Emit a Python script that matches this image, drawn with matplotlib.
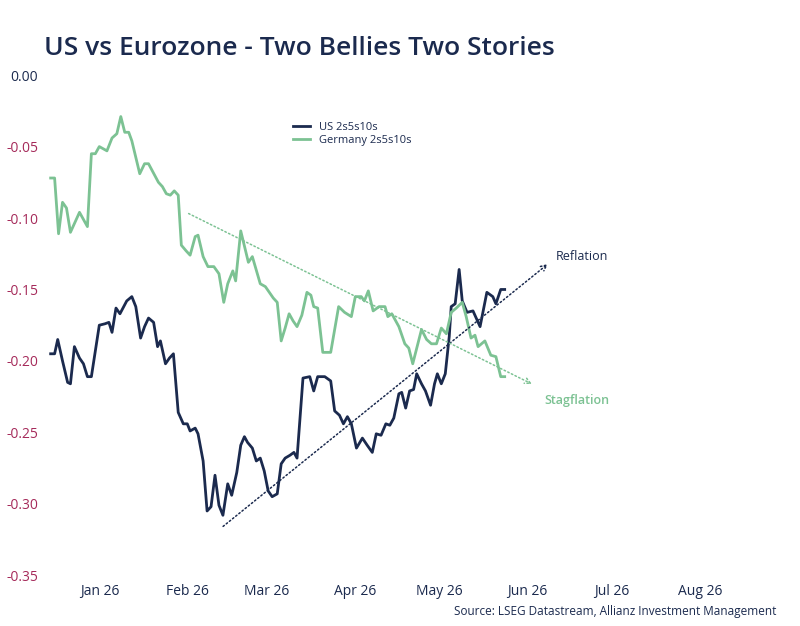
import pandas as pd
import matplotlib.pyplot as plt

# ---------------- DATA ----------------
START = pd.Timestamp("2026-01-01")

us_days = [-17.5, -16.1, -15.0, -13.3, -11.5, -10.5, -9.1, -7.3, -5.9, -4.5, -3.1, -0.3, 1.7, 3.1, 4.2,
           5.6, 7.0, 9.4, 11.2, 12.6, 14.3, 15.7, 17.1, 18.9, 20.3, 21.3, 23.1, 24.5, 25.9, 27.6, 29.4,
           30.8, 31.8, 33.6, 34.6, 36.4, 37.8, 39.2, 40.6, 42.0, 43.4, 45.1, 46.5, 48.3, 49.7, 51.0,
           52.1, 53.8, 55.2, 56.6, 58.0, 59.4, 60.8, 62.6, 64.0, 65.4, 67.1, 68.5, 69.6, 71.7, 74.1,
           75.5, 76.9, 79.4, 81.5, 82.9, 84.6, 86.0, 87.4, 88.8, 90.6, 92.7, 94.4, 96.2, 97.6, 99.3,
           101.0, 102.4, 103.8, 105.6, 106.6, 108.0, 109.4, 110.8, 111.9, 113.6, 115.0, 116.8, 118.2,
           119.2, 120.6, 122.0, 123.4, 124.1, 125.5, 126.9, 128.0, 129.7, 131.8, 134.3, 136.7, 138.8,
           139.9, 141.6, 143.0]
us_vals = [-0.195, -0.195, -0.185, -0.200, -0.215, -0.216, -0.190, -0.198, -0.202, -0.211, -0.211,
           -0.175, -0.174, -0.173, -0.180, -0.163, -0.167, -0.158, -0.155, -0.162, -0.184, -0.176,
           -0.170, -0.173, -0.190, -0.186, -0.202, -0.198, -0.195, -0.236, -0.244, -0.244, -0.249,
           -0.247, -0.251, -0.270, -0.305, -0.302, -0.280, -0.301, -0.308, -0.286, -0.294, -0.278,
           -0.259, -0.253, -0.257, -0.261, -0.270, -0.268, -0.277, -0.291, -0.295, -0.293, -0.272,
           -0.268, -0.266, -0.264, -0.268, -0.212, -0.211, -0.221, -0.211, -0.211, -0.214, -0.235,
           -0.238, -0.244, -0.239, -0.244, -0.261, -0.254, -0.259, -0.264, -0.251, -0.252, -0.244,
           -0.245, -0.240, -0.223, -0.222, -0.233, -0.221, -0.220, -0.209, -0.216, -0.221, -0.231,
           -0.216, -0.209, -0.216, -0.209, -0.183, -0.162, -0.160, -0.136, -0.158, -0.166, -0.165,
           -0.176, -0.152, -0.155, -0.160, -0.150, -0.150]

de_days = [-17.5, -16.1, -14.7, -13.3, -11.9, -10.5, -7.3, -4.5, -3.1, -1.7, -0.3, 2.4, 4.2, 5.9, 7.3,
           8.7, 10.1, 11.2, 14.0, 15.7, 17.1, 20.6, 22.0, 23.4, 24.8, 26.2, 27.6, 28.7, 30.4, 31.8,
           33.6, 34.6, 36.4, 38.1, 40.2, 42.0, 43.7, 45.1, 46.9, 47.9, 49.7, 52.4, 53.8, 56.6, 58.4,
           61.2, 62.6, 64.0, 65.4, 66.8, 68.2, 69.6, 71.3, 73.1, 74.5, 75.5, 76.9, 78.7, 81.5, 84.3,
           86.4, 88.8, 90.2, 92.3, 93.4, 94.8, 96.5, 98.6, 100.7, 101.7, 103.1, 105.6, 107.7, 109.1,
           110.5, 113.6, 115.4, 117.1, 118.9, 120.6, 122.4, 124.1, 125.9, 128.0, 129.4, 131.1, 132.5,
           133.6, 136.0, 138.1, 139.9, 141.6, 143.0]
de_vals = [-0.072, -0.072, -0.111, -0.089, -0.093, -0.110, -0.096, -0.106, -0.055, -0.055, -0.050,
           -0.053, -0.044, -0.041, -0.029, -0.040, -0.040, -0.046, -0.069, -0.062, -0.062, -0.075,
           -0.078, -0.083, -0.084, -0.081, -0.084, -0.119, -0.123, -0.126, -0.113, -0.112, -0.127,
           -0.134, -0.134, -0.139, -0.159, -0.146, -0.137, -0.144, -0.109, -0.131, -0.127, -0.146,
           -0.148, -0.156, -0.159, -0.186, -0.177, -0.167, -0.172, -0.176, -0.168, -0.152, -0.154,
           -0.162, -0.163, -0.194, -0.194, -0.162, -0.166, -0.169, -0.155, -0.155, -0.158, -0.151,
           -0.165, -0.162, -0.162, -0.169, -0.167, -0.176, -0.188, -0.191, -0.202, -0.178, -0.185,
           -0.188, -0.188, -0.177, -0.181, -0.166, -0.163, -0.159, -0.169, -0.184, -0.182, -0.190,
           -0.186, -0.196, -0.197, -0.211, -0.211]

# trend arrows: (start day, start value, end day, end value)
reflation = [42.7, -0.317, 159.0, -0.131]
stagflation = [30.4, -0.096, 153.5, -0.217]

yticks = [0.00, -0.05, -0.10, -0.15, -0.20, -0.25, -0.30, -0.35]
months = pd.date_range("2026-01-01", "2026-08-01", freq="MS")

NAVY = "#1b2a4e"
GREEN = "#7cc293"
PINK = "#a52a5a"

plt.rcParams["font.family"] = ["Open Sans", "DejaVu Sans"]


def to_dates(days):
    return START + pd.to_timedelta(days, unit="D")


# ---------------- PLOT ----------------
fig = plt.figure(figsize=(8, 6.26), dpi=100)
ax = fig.add_axes([0.058, 0.081, 0.93, 0.799])

ax.plot(to_dates(us_days), us_vals, color=NAVY, lw=2, label="US 2s5s10s")
ax.plot(to_dates(de_days), de_vals, color=GREEN, lw=2, label="Germany 2s5s10s")

for (d0, v0, d1, v1), col in [(reflation, NAVY), (stagflation, GREEN)]:
    ax.annotate("", xy=(to_dates(d1), v1), xytext=(to_dates(d0), v0),
                arrowprops=dict(arrowstyle="->", color=col, lw=1.1, linestyle=":"))

ax.text(to_dates(161), -0.127, "Reflation", color=NAVY, fontsize=9, va="center")
ax.text(to_dates(157), -0.228, "Stagflation", color=GREEN, fontsize=9, va="center",
        fontweight="semibold")

ax.set_xlim(to_dates(-19), to_dates(244))
ax.set_ylim(-0.35, 0.0)
ax.set_xticks(months)
ax.set_xticklabels([m.strftime("%b ") + "26" for m in months], color=NAVY, fontsize=10)
ax.set_yticks(yticks)
ax.set_yticklabels([f"{t:.2f}" for t in yticks], fontsize=10)
for i, lab in enumerate(ax.get_yticklabels()):
    lab.set_color(NAVY if i == 0 else PINK)
ax.tick_params(length=0, pad=6)
for s in ax.spines.values():
    s.set_visible(False)

ax.legend(loc="upper left", bbox_to_anchor=(0.325, 0.915), frameon=False, fontsize=8,
          handlelength=1.6, labelcolor=NAVY, borderaxespad=0, labelspacing=0.2)

fig.text(0.055, 0.912, "US vs Eurozone - Two Bellies Two Stories", color=NAVY, fontsize=19,
         fontweight="semibold")
fig.text(0.97, 0.018, "Source: LSEG Datastream, Allianz Investment Management", color=NAVY,
         fontsize=8.5, ha="right")

plt.savefig("out.png")
